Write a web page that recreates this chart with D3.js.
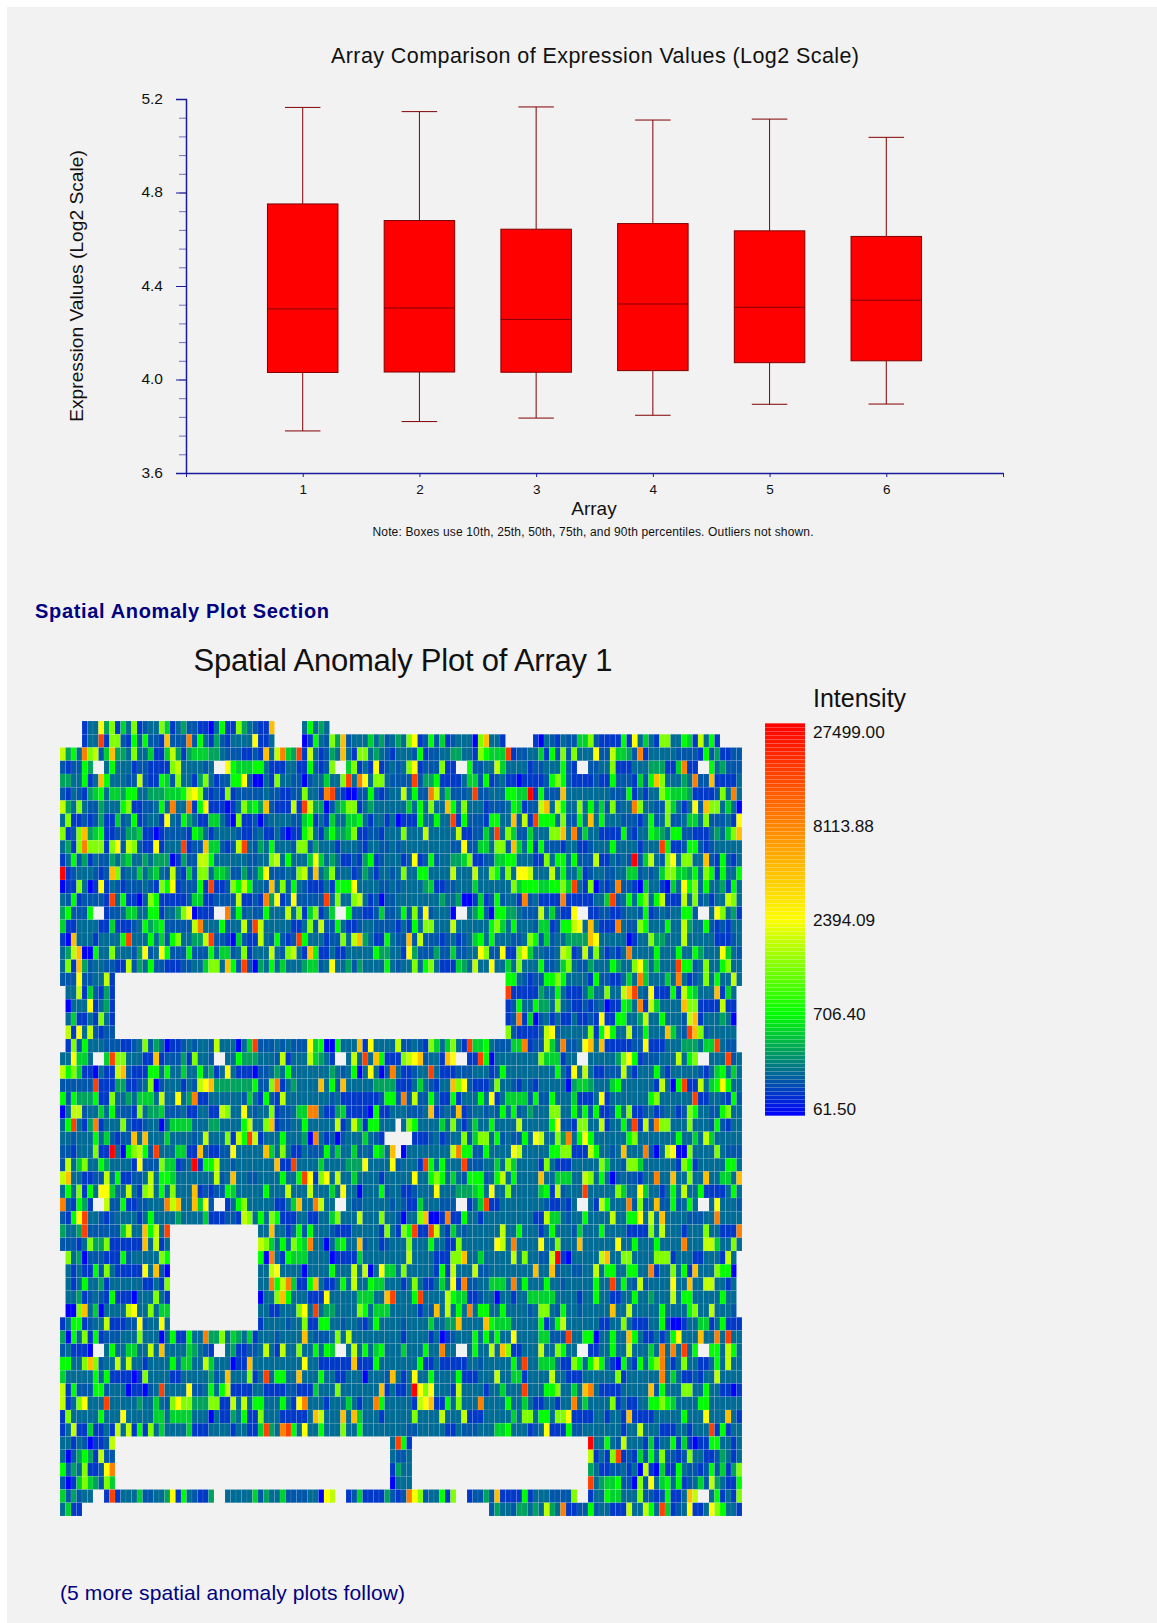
<!DOCTYPE html>
<html>
<head>
<meta charset="utf-8">
<script src="https://cdn.jsdelivr.net/npm/d3@7"></script>
<style>
  html, body { margin: 0; padding: 0; background: #fff; }
  svg { display: block; font-family: "Liberation Sans", Arial, sans-serif; }
</style>
</head>
<body>
<div id="chart"></div>
<script>
// box plot values
const arrays = [1, 2, 3, 4, 5, 6];
const p10 = [3.78, 3.82, 3.835, 3.847, 3.894, 3.895];
const p25 = [4.03, 4.032, 4.031, 4.038, 4.072, 4.08];
const p50 = [4.302, 4.306, 4.257, 4.323, 4.309, 4.339];
const p75 = [4.751, 4.68, 4.643, 4.667, 4.636, 4.612];
const p90 = [5.164, 5.146, 5.166, 5.11, 5.114, 5.036];
const yLabels = [3.6, 4.0, 4.4, 4.8, 5.2];

// colour legend labels, top to bottom
const legendLabels = [27499.00, 8113.88, 2394.09, 706.40, 61.50];

// heat map: one character per spot, "." = no spot. Groups of ten columns.
const levelCodes = "0123456789abcd";
const levelIntensity = [61.5, 105, 140, 172, 290, 455, 706.4, 1300, 1764, 2394.09, 4406, 8113.88, 14940, 27499];
const cellRows = [
"....133947 1537123375 1342211036 11743211a. ....36343. .......... .......... .......... .......... .......... .......... .......... ....",
"....133c17 721626221a 222b263142 133339113. ....016327 4a23335342 3437912625 1233307a33 1.....1032 1322557211 1161935317 7336518361 ....",
"8463b7825a 4437335115 8414555443 2221121a38 b54c183124 3a31773432 1333261223 3443317655 5c12233516 2727333922 85542b1333 3322221624 1122",
"212264..36 3331221111 78333323.. 9655566311 1331162127 ..57131912 3237912227 11..622338 5333312233 3621..2233 7111333444 115b11..63 4222",
"4433613a63 3322821165 2733147312 2669200317 3322023353 37c3b93773 2222c24461 1113552612 3110111126 7621111211 62221526a7 33343b22a1 1113",
"2132145635 5466334445 5568972121 7122222322 11227331bc 2100226212 3383622b83 52223c2233 36655d1622 2a33333333 2226131337 6555411112 73b3",
"8437322433 3671122363 b33b169111 0137564a21 1181c84402 4577134333 3335363733 a637333122 23651228a3 8633736352 7233b73322 7531392a77 3530",
"3711212411 5236123319 3264311553 1071120233 3322561315 3355631331 3011163363 3c16222166 33a281c666 372263a363 3322213623 7223553722 2319",
"7127a45611 2244511012 2221653133 3321123113 1011673146 4457112213 3373338333 338112253c 3752253337 7a3b253311 1162133654 3662211134 357a",
"3417b77717 9287211913 33c122a552 128c324363 3327724333 1333213322 3233333333 3229225537 72a5361622 2133112333 633331333c 6112662123 3333",
"1362413224 3453343444 0142288633 3333223378 3633359534 3112146123 3312912623 3445711225 5663331173 6636222811 3232d25832 7937733a21 6213",
"d12333212a 7233534532 8215277355 4224235922 232782a347 2331243133 2373366333 3833383376 3739983338 3633512332 2335523235 7755463761 6336",
"0117301913 2122232176 9122261c11 27686332a3 7263211131 6669333322 3233334511 2233353333 3375666556 675c317021 2b22105331 0539673633 4163",
"326122221c 3611027611 1112551122 2281121b49 12922222c3 7337831202 2333333334 3340015126 2331b23111 1b11111335 c236367368 1118372313 3873",
"462226..12 2355336613 34790111.. b362322633 3837157135 ..62211252 2362729233 30..346206 6443222835 2119..1122 1123326123 233662..39 7341",
"5113333115 1112364562 22228b3336 23382c8333 3311372822 6311233222 2131637733 3833333367 5363332551 266893a311 1b32276333 6338433621 2133",
"10a3331333 36c3336352 6733448c22 1052118326 212c633312 2738a43116 322a282221 2312356363 3322376252 334444a933 3330133744 3338333331 1123",
"348a006337 3332492396 2226222635 5237133383 27831a6113 1133333644 3319422242 2522339722 9117953322 3871282731 213b333363 3363364333 9532",
"371a423322 1182436221 1122335773 a62c204363 5333455239 3342433336 3233736731 1154383393 3537333622 3573224333 6433795353 33c6623733 6733",
"2229223381 .......... .......... .......... .......... .......... .......... .......... .663212266 7633331622 11353b5333 53b3123736 3383",
".338152141 .......... .......... .......... .......... .......... .......... .......... .c11111433 6311135337 338ac32911 161865333a 153.",
".033391341 .......... .......... .......... .......... .......... .......... .......... .126336443 7321121230 11653b1853 333a771111 811.",
".351131731 .......... .......... .......... .......... .......... .......... .......... .12b150231 3113112191 1663348336 33328a1333 430.",
".819382122 .......... .......... .......... .......... .......... .......... .......... .721111289 2333337169 6338236333 a532ca7233 333.",
".172633322 2112372430 1123233283 33035c2223 2322295600 6333a19333 3822321753 5731c55632 2255b12285 3b2239a3a1 1111229111 333444355c 322.",
"339553..5c 7733311a12 22417332.. 3364443332 8133385431 ..383c3a61 11789a2331 a9..11c603 3333333755 5133..3333 3479612223 338367..33 3c23",
"8675110311 8a21116636 3353363413 9311102234 3633333334 3236039302 b311233c31 1122233312 6333333333 6319383112 2283133363 1333332135 6353",
"222222c111 4411237023 3313289a44 444446227b 1343333a36 2a33333444 4111353213 3a79211137 3321321333 3304554333 5633333318 306c118356 9633",
"6264446117 3343555383 3934b11333 3332531621 8333333332 3111111126 62b2822631 1613336391 3555526226 3335111391 3333333673 33333c1133 2162",
"0388233536 2221734452 2231133118 7339323371 22355bb311 4511110611 3332223a12 32a1233232 6362343337 7336362611 2637112312 3312763322 6733",
"36c314b133 3721123303 5555333443 33368337a1 2233633333 8138516633 3.37633335 3731353363 3338333336 9221773381 3363c182b7 7333733326 2133",
"3323336352 122a3a3335 3333238333 7186c81333 633340b312 023335321. ....111231 2337257736 2322639833 74b3696333 3336733333 3363353853 3333",
"221333711d 3067862c33 35511a2112 2933333a53 7311322263 5335232653 a.03333333 38b6622633 3398333336 6771118633 23a333b203 8900733337 3222",
"2835733643 3331922275 5123d16683 323333333a 11c3333533 3344493333 923331c636 333c222335 3753333173 1113333375 3327753333 3317613333 3663",
"8a33112283 6112238366 5333333382 3a33223333 6336c91793 8335333313 3333933676 3532666236 8363333a33 5553387363 02322133b3 3a33733a33 553a",
"3637163995 3383178363 7333a12122 6533333633 3833383335 3933033362 3311233393 3344456393 3733333561 82333c3333 3753395331 3638336111 1363",
"b21641..82 261122333b 8a33a592.. 1367333331 135a33b833 ..32233333 2321153332 22..135c11 3333333321 1213..3186 333b2723a2 262363..39 3332",
"2169c33212 3333136333 3433335111 2218736376 1113311335 7333833373 320337a001 b116331333 3333331185 5323363333 833669383a 333322233b 3333",
"4334c22222 25833a683c .......... ......33a3 3136263332 1113333317 3176c11c83 1532333333 8336333136 3332533363 3331111738 3331333733 111b",
"2221374471 11111a3813 .......... ......8753 63765b3303 5633a23312 3337333633 1173333339 83b3333933 7333a33333 3933633363 333b333885 3373",
".734022211 1623333376 .......... ......60b3 1655533330 1111533333 3338333311 177a335333 3383733228 d10333338a 3377333377 7133311333 183.",
".313116273 1111193a20 .......... ......3389 3333033336 3338380395 5373333316 1833382233 333333a33a 2332233836 6336633b13 37361a3337 660.",
".313633413 3333311317 .......... ......33b6 8b5116a311 3638336553 3313731135 391b223355 53b3633363 3233333633 c363282333 3933a33883 313.",
".334123216 1110333731 .......... ......0337 a633311193 333355533a c3336c3333 8655112330 3313355555 3333133633 1133633433 3836633333 633.",
".007a35033 3389337355 .......... ......3311 333793c344 3333763555 33333132a3 8363b36633 6333323773 2633233333 a338333336 3333673383 332.",
"1366123381 1122923393 .......... ......1333 3233711663 3233213633 3323333533 44a3333a65 5533333613 6833333311 3373111336 1001335513 6111",
"4063716122 2333733303 611633b447 3543513332 3333a32223 7383333333 3313333130 1233363636 3393333552 22c3366033 633a631131 369333a33b 3c33",
"231110..36 33553383a3 33354321.. 3411223831 8337336365 ..38363563 335333633b 33..363383 a711333833 7633..1133 633833353b 3b3c36..66 3863",
"66337a7233 8383313333 6355338533 3011a33333 3333933111 111a111633 3333361131 1111332333 3363c33555 3117636863 106316367b 3137331136 3833",
"5333336361 1110173333 1133333423 a333713c36 633a333633 1133303332 a313933633 3361113338 3355133338 3311133333 371333333b 3531121338 3333",
"8162226623 33011023c3 3339223636 8111133111 1221115333 73333333a1 3113d97933 3183333133 5333c33366 73353ab311 1133333a26 3337733633 1101",
"81379333c3 3333433532 7977444771 1838366333 6319b33313 3353133b63 3333189a11 637333b333 3633531133 133b353333 7131133667 6533336633 3333",
"1733333633 3933333553 5555333031 1436117333 111113a833 3a3a533313 3333733338 3338111333 3353773663 7791111331 331a111133 3336333933 3a31",
"1381151131 8381617353 3335111333 3133115c43 bc63933633 3733633333 3332233333 1132223335 5633312391 1162233333 3313383331 11331333c1 6133",
"3313201128 .......... .......... .......... .......... .......... 3c61...... .......... .......... ......d336 3283331513 3615101166 3313",
"3024641822 .......... .......... .......... .......... .......... 3223...... .......... .......... ......8131 7c12152637 2212733112 4313",
"624371129b .......... .......... .......... .......... .......... 1433...... .......... .......... ......4311 2231308105 1163221262 5147",
"2015754275 .......... .......... .......... .......... .......... 0333...... .......... .......... ......c345 5622072935 6361235284 3116",
"524233..1c 1333522334 91632114.. 3333352433 5222233098 ..12511114 212b972336 17..12242a 1111613332 2227..1336 5533372212 6113a8..36 1317",
"3511...... .......... .......... .......... .......... .......... .......... ........24 3324434384 3b11226233 111833863c 5123911397 6331"
];

const width = 1157, height = 1623;
const navy = "#000080", axisBlue = "#1a1a9c", boxLine = "#800000";

const svg = d3.select("#chart").append("svg")
  .attr("width", width).attr("height", height);

svg.append("rect").attr("x", 7).attr("y", 7)
  .attr("width", width - 7).attr("height", height - 7).attr("fill", "#f2f2f2");

function label(txt, x, y, size, opts = {}) {
  const t = svg.append("text").attr("x", x).attr("y", y)
    .attr("font-size", size)
    .attr("fill", opts.fill || "#111")
    .attr("text-anchor", opts.anchor || "start")
    .text(txt);
  if (opts.weight) t.attr("font-weight", opts.weight);
  if (opts.len) t.attr("textLength", opts.len);
  return t;
}

// ---- box plot ----
const x = d3.scaleLinear().domain([0, 7]).range([186, 1003]);
const y = d3.scaleLinear().domain([3.6, 5.2]).range([473, 99]);
const boxW = 70.5, capW = 35.5;

const yAxis = d3.axisLeft(y).tickValues(yLabels).tickFormat(d3.format(".1f")).tickSize(10).tickPadding(13);
const yMinor = d3.axisLeft(y).tickValues(d3.range(0, 21).map(i => 3.6 + i * 0.08)).tickFormat("").tickSize(7);
const xAxis = d3.axisBottom(x).tickValues(d3.range(0, 8))
  .tickFormat(d => arrays.includes(d) ? d : "").tickSize(4).tickPadding(7).tickSizeOuter(0);

const gMinor = svg.append("g").attr("transform", "translate(186,0)").call(yMinor);
gMinor.selectAll("line").attr("stroke", axisBlue).attr("stroke-opacity", 0.6);
gMinor.select(".domain").remove();

const gy = svg.append("g").attr("transform", "translate(186,0)").call(yAxis);
gy.selectAll("line").attr("stroke", axisBlue);
gy.select(".domain").attr("stroke", axisBlue).attr("stroke-width", 1.5);
gy.selectAll("text").attr("font-size", 15.5).attr("font-family", null).attr("fill", "#111").attr("dy", "0.26em");

const gx = svg.append("g").attr("transform", "translate(0,473)").call(xAxis);
gx.selectAll("line").attr("stroke", axisBlue);
gx.select(".domain").attr("stroke", axisBlue).attr("stroke-width", 1.5);
gx.selectAll("text").attr("font-size", 13.5).attr("font-family", null).attr("fill", "#111");

const boxes = svg.append("g").selectAll("g").data(arrays).join("g");
// whiskers and caps
boxes.append("line").attr("x1", d => x(d)).attr("x2", d => x(d))
  .attr("y1", (d, i) => y(p90[i])).attr("y2", (d, i) => y(p75[i])).attr("stroke", boxLine);
boxes.append("line").attr("x1", d => x(d)).attr("x2", d => x(d))
  .attr("y1", (d, i) => y(p25[i])).attr("y2", (d, i) => y(p10[i])).attr("stroke", boxLine);
boxes.append("line").attr("x1", d => x(d) - capW / 2).attr("x2", d => x(d) + capW / 2)
  .attr("y1", (d, i) => y(p90[i])).attr("y2", (d, i) => y(p90[i])).attr("stroke", boxLine);
boxes.append("line").attr("x1", d => x(d) - capW / 2).attr("x2", d => x(d) + capW / 2)
  .attr("y1", (d, i) => y(p10[i])).attr("y2", (d, i) => y(p10[i])).attr("stroke", boxLine);
boxes.append("rect").attr("x", d => x(d) - boxW / 2).attr("width", boxW)
  .attr("y", (d, i) => y(p75[i])).attr("height", (d, i) => y(p25[i]) - y(p75[i]))
  .attr("fill", "#ff0000").attr("stroke", boxLine);
boxes.append("line").attr("x1", d => x(d) - boxW / 2).attr("x2", d => x(d) + boxW / 2)
  .attr("y1", (d, i) => y(p50[i])).attr("y2", (d, i) => y(p50[i])).attr("stroke", boxLine);

label("Array Comparison of Expression Values (Log2 Scale)", 595, 63, 21.5, { anchor: "middle", len: 528 });
label("Expression Values (Log2 Scale)", 0, 0, 19.2, { anchor: "middle" })
  .attr("transform", "translate(83,286) rotate(-90)").attr("x", null).attr("y", null);
label("Array", 594, 515, 19, { anchor: "middle" });
label("Note: Boxes use 10th, 25th, 50th, 75th, and 90th percentiles. Outliers not shown.", 593, 536, 12, { anchor: "middle", len: 441 });

label("Spatial Anomaly Plot Section", 35, 618, 20, { fill: navy, weight: "bold", len: 294 });
label("Spatial Anomaly Plot of Array 1", 193.5, 671, 31, { len: 419 });
label("(5 more spatial anomaly plots follow)", 60, 1600, 21, { fill: navy, len: 345 });

// ---- heat map ----
const color = d3.scaleLog()
  .domain([61.5, 706.4, 2394.09, 27499])
  .range(["#0000ff", "#00ff00", "#ffff00", "#ff0000"])
  .interpolate(d3.interpolateRgb);

const cells = cellRows.flatMap((row, r) => [...row.replace(/ /g, "")].map((ch, c) => ({ r, c, ch })))
  .filter(d => d.ch !== ".")
  .map(d => ({ r: d.r, c: d.c, v: levelIntensity[levelCodes.indexOf(d.ch)] }));

const cx = d3.scaleLinear().domain([0, 124]).range([60, 742]);
const cy = d3.scaleLinear().domain([0, cellRows.length]).range([721, 1516]);

svg.append("g").selectAll("rect").data(cells).join("rect")
  .attr("x", d => cx(d.c)).attr("y", d => cy(d.r))
  .attr("width", cx(1) - cx(0)).attr("height", cy(1) - cy(0))
  .attr("fill", d => color(d.v))
  .attr("stroke", "rgba(255,255,255,0.16)").attr("stroke-width", 0.6);

// ---- legend ----
const barTop = 723.3, barBottom = 1115.7, barLeft = 765, barWidth = 40, bands = 98;
const barColor = d3.scaleLinear().domain([0, 0.26, 0.5, 1])
  .range(["#0000ff", "#00ff00", "#ffff00", "#ff0000"]);
const barY = d3.scaleLinear().domain([0, bands]).range([barBottom, barTop]);

svg.append("g").selectAll("rect").data(d3.range(bands)).join("rect")
  .attr("x", barLeft).attr("width", barWidth)
  .attr("y", d => barY(d + 1)).attr("height", d => barY(d) - barY(d + 1))
  .attr("fill", d => barColor((d + 0.5) / bands))
  .attr("stroke", "rgba(255,255,255,0.1)").attr("stroke-width", 0.5);

label("Intensity", 813, 707, 25);
const legendY = d3.scalePoint().domain(legendLabels).range([732, 1108.5]);
svg.append("g").selectAll("text").data(legendLabels).join("text")
  .attr("x", 813).attr("y", d => legendY(d) + 6)
  .attr("font-size", 17.2).attr("fill", "#111")
  .text(d => d.toFixed(2));
</script>
</body>
</html>
